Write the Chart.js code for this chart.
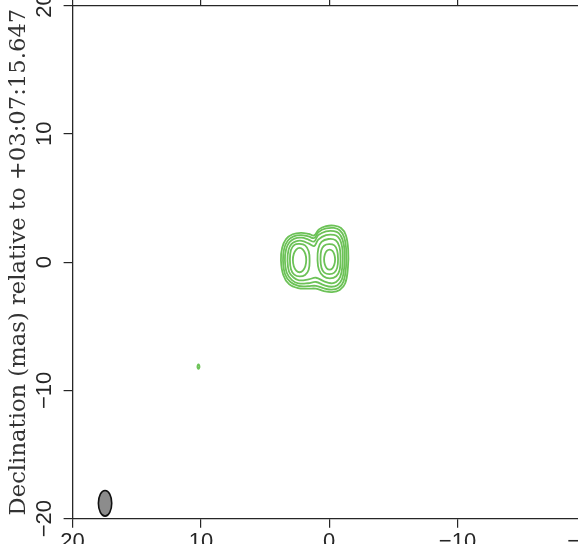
<!DOCTYPE html>
<html>
<head>
<meta charset="utf-8">
<script src="https://cdn.jsdelivr.net/npm/chart.js@4.4.1/dist/chart.umd.min.js"></script>
<style>
  html, body { margin: 0; padding: 0; overflow: hidden; background: #fff; width: 578px; height: 544px; }
  #wrap { position: absolute; left: 0; top: 0; width: 640px; height: 544px; }
</style>
</head>
<body>
<div id="wrap"><canvas id="map" width="640" height="544"></canvas></div>
<script>
// Axis ticks (mas offsets)
const tickValues = [-20, -10, 0, 10, 20];
const tickLabels = ['\u221220', '\u221210', '0', '10', '20'];
const yTitle = 'Declination (mas) relative to +03:07:15.647';

// Contours shared by both components, outermost first: [RA offset, Dec offset] in mas
const sharedLevel1 = [[3.76,0.15],[3.67,1.10],[3.36,1.80],[2.85,2.17],[2.20,2.28],[1.60,2.20],[1.18,2.08],[0.80,2.55],[0.25,2.80],[-0.37,2.84],[-0.92,2.66],[-1.30,2.10],[-1.48,0.94],[-1.46,-0.40],[-1.25,-1.65],[-0.82,-2.18],[-0.22,-2.34],[0.41,-2.26],[1.03,-2.07],[1.65,-2.07],[2.43,-2.03],[3.13,-1.72],[3.58,-1.00]];
const sharedLevel2 = [[3.60,0.15],[3.51,1.05],[3.22,1.68],[2.78,2.00],[2.20,2.10],[1.62,2.00],[1.18,1.88],[0.82,2.35],[0.25,2.62],[-0.37,2.66],[-0.82,2.48],[-1.16,1.95],[-1.33,0.90],[-1.31,-0.40],[-1.12,-1.50],[-0.74,-2.00],[-0.20,-2.15],[0.40,-2.05],[1.03,-1.85],[1.65,-1.88],[2.40,-1.85],[3.02,-1.55],[3.44,-0.95]];
const sharedLevel3 = [[3.45,0.15],[3.36,1.00],[3.10,1.55],[2.70,1.83],[2.18,1.90],[1.62,1.76],[1.18,1.60],[0.85,2.10],[0.25,2.40],[-0.37,2.42],[-0.74,2.26],[-1.04,1.75],[-1.20,0.85],[-1.17,-0.40],[-0.99,-1.35],[-0.64,-1.80],[-0.18,-1.92],[0.40,-1.80],[1.03,-1.55],[1.65,-1.65],[2.40,-1.65],[2.90,-1.40],[3.30,-0.85]];
const sharedLevel4 = [[3.25,0.15],[3.17,0.95],[2.95,1.40],[2.60,1.62],[2.15,1.66],[1.62,1.46],[1.18,1.25],[0.85,1.75],[0.25,2.10],[-0.37,2.12],[-0.68,1.96],[-0.92,1.55],[-1.05,0.80],[-1.02,-0.40],[-0.86,-1.15],[-0.54,-1.55],[-0.15,-1.65],[0.40,-1.50],[1.03,-1.22],[1.60,-1.35],[2.35,-1.42],[2.78,-1.20],[3.13,-0.75]];

// Eastern component (left)
const eastLevel5 = [[3.06,0.15],[2.98,0.95],[2.70,1.35],[2.30,1.42],[1.88,1.30],[1.60,0.85],[1.53,0.15],[1.60,-0.60],[1.88,-1.00],[2.30,-1.12],[2.72,-0.98],[2.98,-0.55]];
const eastLevel6 = [[2.83,0.16],[2.76,0.64],[2.57,0.98],[2.31,1.11],[2.05,0.98],[1.86,0.64],[1.79,0.16],[1.86,-0.32],[2.05,-0.66],[2.31,-0.79],[2.57,-0.66],[2.76,-0.32]];

// Western component (right)
const westLevel5 = [[0.91,0.20],[0.85,1.05],[0.60,1.58],[0.05,1.80],[-0.50,1.70],[-0.80,1.20],[-0.88,0.30],[-0.82,-0.60],[-0.55,-1.10],[-0.05,-1.27],[0.45,-1.10],[0.80,-0.60]];
const westLevel6 = [[0.68,0.20],[0.62,0.90],[0.40,1.28],[0.00,1.40],[-0.40,1.30],[-0.62,0.90],[-0.69,0.22],[-0.62,-0.45],[-0.40,-0.82],[-0.02,-0.93],[0.38,-0.82],[0.60,-0.45]];
const westLevel7 = [[0.40,0.20],[0.34,0.59],[0.19,0.88],[-0.03,0.98],[-0.25,0.88],[-0.40,0.59],[-0.46,0.20],[-0.40,-0.19],[-0.25,-0.48],[-0.03,-0.58],[0.19,-0.48],[0.34,-0.19]];

// Faint isolated feature
const isolatedBlob = [[10.27,-8.15],[10.19,-7.97],[10.11,-8.15],[10.19,-8.33]];

// Restoring beam: centre and semi-axes (RA, Dec) in mas
const beamCentre = [17.47, -18.8];
const beamSemiAxes = [0.52, 1.0];

const contours = [sharedLevel1, sharedLevel2, sharedLevel3, sharedLevel4,
                  eastLevel5, eastLevel6, westLevel5, westLevel6, westLevel7, isolatedBlob];

const contourColour = '#6cc257';
const axisColour = '#262626';
const tickFont = { family: "'Liberation Sans', Arial, sans-serif", size: 22 };

// Each contour is a closed curve
const closedContours = {
  id: 'closedContours',
  afterDatasetUpdate(chart, args) {
    const line = args.meta.dataset;
    if (line) { line._loop = true; line._fullLoop = true; }
  }
};

const beamMarker = {
  id: 'beamMarker',
  afterDatasetsDraw(chart) {
    const { ctx } = chart;
    const xs = chart.scales.x, ys = chart.scales.y;
    const cx = xs.getPixelForValue(beamCentre[0]);
    const cy = ys.getPixelForValue(beamCentre[1]);
    const rx = Math.abs(xs.getPixelForValue(beamCentre[0] + beamSemiAxes[0]) - cx);
    const ry = Math.abs(ys.getPixelForValue(beamCentre[1] + beamSemiAxes[1]) - cy);
    ctx.save();
    ctx.beginPath();
    ctx.ellipse(cx, cy, rx, ry, 0, 0, Math.PI * 2);
    ctx.fillStyle = '#8c8c8c';
    ctx.fill();
    ctx.lineWidth = 1.6;
    ctx.strokeStyle = '#111';
    ctx.stroke();
    ctx.restore();
  }
};

const useTicks = scale => { scale.ticks = tickValues.map(v => ({ value: v })); };
const labelFor = v => tickLabels[tickValues.indexOf(v)];

new Chart(document.getElementById('map'), {
  type: 'line',
  data: {
    datasets: contours.map(c => ({
      data: c.map(p => ({ x: p[0], y: p[1] })),
      borderColor: contourColour,
      borderWidth: 1.8,
      pointRadius: 0,
      tension: 0.4,
      fill: false,
      spanGaps: true
    }))
  },
  options: {
    responsive: false,
    animation: false,
    layout: { padding: { left: 0, top: 0, bottom: 0, right: 54.2 } },
    plugins: { legend: { display: false }, tooltip: { enabled: false } },
    scales: {
      x: {
        type: 'linear', position: 'bottom', min: -20, max: 20, reverse: true,
        afterBuildTicks: useTicks,
        ticks: { callback: labelFor, font: tickFont, color: axisColour, padding: 1, maxRotation: 0, autoSkip: false },
        grid: { drawOnChartArea: false, tickLength: 9, color: axisColour, lineWidth: 1.2 },
        border: { color: axisColour, width: 1.3 },
        afterFit: s => { s.height = 25.3; s.paddingLeft = 0; s.paddingRight = 0; }
      },
      xTop: {
        type: 'linear', position: 'top', min: -20, max: 20, reverse: true,
        afterBuildTicks: useTicks,
        ticks: { display: false },
        grid: { drawOnChartArea: false, tickLength: 9, color: axisColour, lineWidth: 1.2 },
        border: { color: axisColour, width: 1.3 },
        afterFit: s => { s.height = 5.5; s.paddingLeft = 0; s.paddingRight = 0; }
      },
      y: {
        type: 'linear', position: 'left', min: -20, max: 20,
        afterBuildTicks: useTicks,
        ticks: { callback: labelFor, font: tickFont, color: axisColour, padding: 0,
                 minRotation: 90, maxRotation: 90, crossAlign: 'center', autoSkip: false },
        grid: { drawOnChartArea: false, tickLength: 9, color: axisColour, lineWidth: 1.2 },
        border: { color: axisColour, width: 1.3 },
        title: { display: true, text: yTitle, color: '#333',
                 font: { family: "'DejaVu Serif', serif", size: 22.7 }, padding: { top: 5, bottom: 0 } },
        afterFit: s => { s.width = 72.6; s.paddingTop = 0; s.paddingBottom = 0; }
      }
    }
  },
  plugins: [closedContours, beamMarker]
});
</script>
</body>
</html>
